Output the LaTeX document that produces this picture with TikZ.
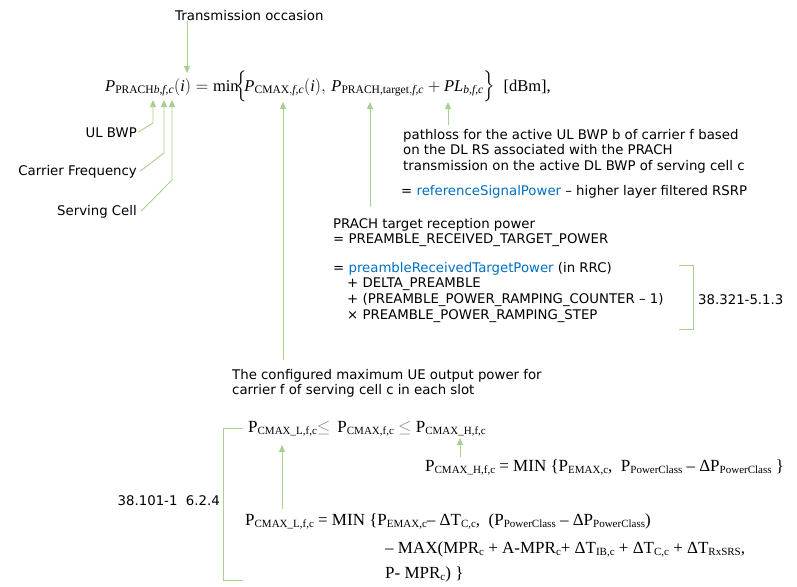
\documentclass[tikz,border=0pt]{standalone}
\definecolor{note_green}{RGB}{169, 209, 142}
\definecolor{rrc_blue}{RGB}{0, 112, 192}
\usepackage{amsmath}
\usepackage{fontspec}
\setmainfont{Liberation Serif}
\newfontfamily\labelfont{DejaVu Sans}
\usepackage{tikz}
\usetikzlibrary{arrows.meta, positioning, calc}
\newcommand{\sub}[1]{\raisebox{-0.35ex}{\fontsize{11}{11}\selectfont #1}}
\newcommand{\grayle}{{\color{gray}$\leq$}}

\begin{document}
\begin{tikzpicture}[x=1pt, y=-1pt,
    label/.style={font=\labelfont\fontsize{13.3}{15.6}\selectfont, align=left, inner sep=0pt},
    formula/.style={font=\fontsize{17}{20}\selectfont, inner sep=0pt, anchor=base west},
    pointer/.style={note_green, line width=0.9pt, -{Triangle[length=7pt, width=6pt]}},
    bracket/.style={note_green, line width=0.9pt}]
        \useasboundingbox (0,0) rectangle (797,586);
        % Formule principale
        \node[formula, font=\fontsize{16.5}{20}\selectfont] (prachEq) at (105,91)
          {$\textit{P}_{\text{PRACH}\textit{b,f,c}}(\textit{i}) = \text{min}\!\Bigl\{\!\textit{P}_{\text{CMAX},\textit{f,c}}(\textit{i}),\, \textit{P}_{\text{PRACH,target},\textit{f,c}} + \textit{PL}_{\textit{b,f,c}}\Bigr\}$\enspace[dBm],};
        \coordinate (iArg) at (187,73);
        \coordinate (bIdx) at (153,100);
        \coordinate (fIdx) at (164,100);
        \coordinate (cIdx) at (172,100);
        \coordinate (cmaxSub) at (283,102);
        \coordinate (targetSub) at (370,102);
        \coordinate (plSub) at (448,102);
        % Indices
        \node[label, anchor=base west] (txocc) at (175,21) {Transmission occasion};
        \node[label, anchor=base east] (ulbwp) at (137,137) {UL BWP};
        \node[label, anchor=base east] (carrier) at (137,175) {Carrier Frequency};
        \node[label, anchor=base east] (cell) at (137,215) {Serving Cell};
        \draw[pointer] (txocc.south -| iArg) -- (iArg);
        \draw[pointer] ([xshift=1pt]ulbwp.east) -- (153,123) -- (bIdx);
        \draw[pointer] ([xshift=3pt]carrier.east) -- (164,153) -- (fIdx);
        \draw[pointer] ([xshift=4pt]cell.east) -- (172,180) -- (cIdx);
        % Pathloss
        \node[label, anchor=north west] (pathloss) at (403,128.9)
          {pathloss for the active UL BWP b of carrier f based\\on the DL RS associated with the PRACH\\transmission on the active DL BWP of serving cell c};
        \node[label, anchor=base west] (rsrp) at (401,195)
          {= \textcolor{rrc_blue}{referenceSignalPower} – higher layer filtered RSRP};
        \draw[pointer] ($(pathloss.north -| plSub)+(0,-4)$) -- (plSub);
        % Puissance cible
        \node[label, anchor=north west] (target) at (333,217.9)
          {PRACH target reception power\\= PREAMBLE\_RECEIVED\_TARGET\_POWER};
        \node[label, anchor=north west] (rrc) at (333,261.9)
          {= \textcolor{rrc_blue}{preambleReceivedTargetPower} (in RRC)\\
           \hspace*{14pt}+ DELTA\_PREAMBLE\\
           \hspace*{14pt}+ (PREAMBLE\_POWER\_RAMPING\_COUNTER – 1)\\
           \hspace*{14pt}× PREAMBLE\_POWER\_RAMPING\_STEP};
        \draw[pointer] ($(target.north -| targetSub)+(0,-11)$) -- (targetSub);
        \draw[bracket] (679,265) -- (693,265) -- (693,329) -- (679,329);
        \node[label, anchor=base west] (spec321) at (698,304) {38.321-5.1.3};
        % Puissance maximale
        \node[label, anchor=north west] (cfgmax) at (232,368.9)
          {The configured maximum UE output power for\\carrier f of serving cell c in each slot};
        \draw[pointer] ($(cfgmax.north -| cmaxSub)+(0,-9)$) -- (cmaxSub);
        \node[formula] (bounds) at (248,432)
          {P\sub{CMAX\_L,f,c}\grayle\ \,P\sub{CMAX,f,c}\ \grayle\ P\sub{CMAX\_H,f,c}};
        \coordinate (cmaxL) at (282,445);
        \coordinate (cmaxH) at (460,438);
        \node[formula] (highEq) at (425,471)
          {P\sub{CMAX\_H,f,c} = MIN \{P\sub{EMAX,c},\ \ P\sub{PowerClass} – ΔP\sub{PowerClass} \}};
        \node[formula] (lowEq) at (245,525)
          {P\sub{CMAX\_L,f,c} = MIN \{P\sub{EMAX,c}– ΔT\sub{C,c},\ \ (P\sub{PowerClass} – ΔP\sub{PowerClass})};
        \node[formula] (lowMax) at (385,553)
          {– MAX(MPR\sub{c} + A-MPR\sub{c}+ ΔT\sub{IB,c} + ΔT\sub{C,c} + ΔT\sub{RxSRS},};
        \node[formula] (lowEnd) at (385,578) {P- MPR\sub{c}) \}};
        \draw[pointer] ($(highEq.north -| cmaxH)+(0,-2)$) -- (cmaxH);
        \draw[pointer] ($(lowEq.north -| cmaxL)+(0,-4)$) -- (cmaxL);
        \draw[bracket] (243,428) -- (223,428) -- (223,580) -- (243,580);
        \node[label, anchor=base east] (spec101) at (220,505) {38.101-1\ \ 6.2.4};
      \end{tikzpicture}
\end{document}
